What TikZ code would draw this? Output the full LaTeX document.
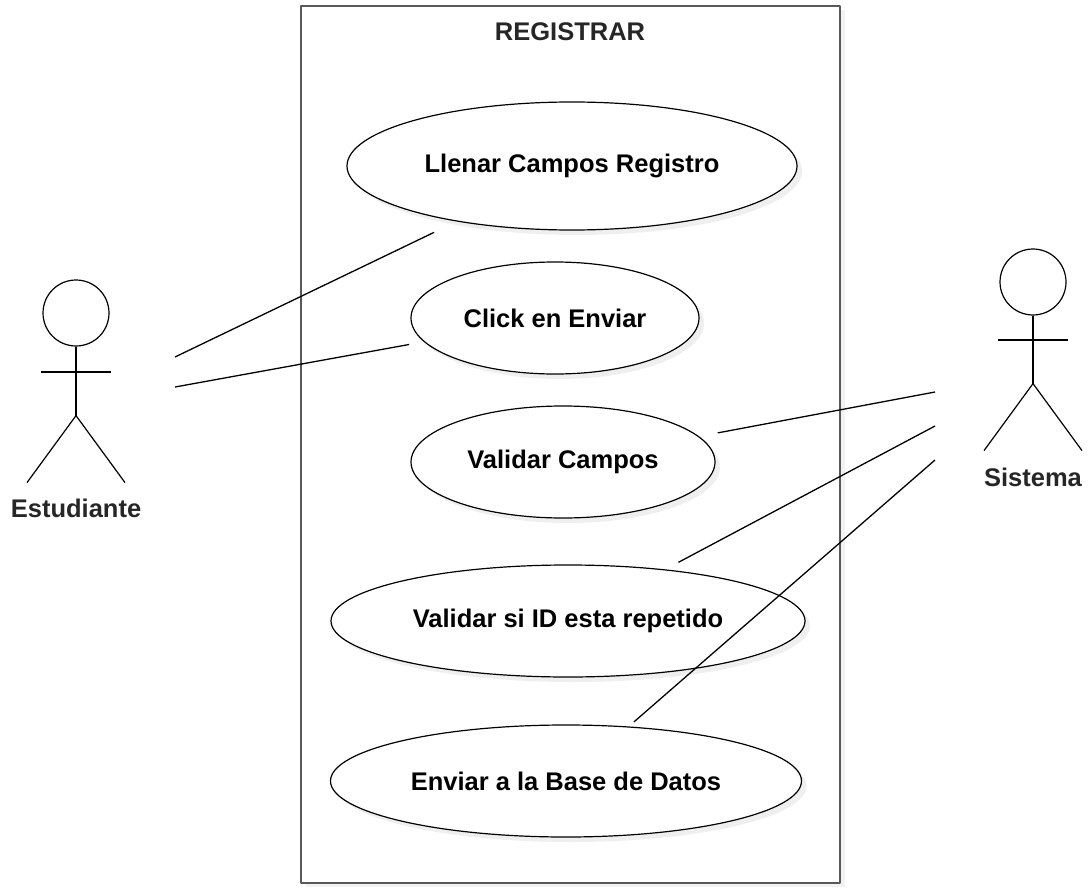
\documentclass[tikz,border=0pt]{standalone}
\usepackage{fontspec}
\setmainfont{Liberation Sans}
\usepackage{tikz}
\usetikzlibrary{calc,shapes.geometric,shadows}
\tikzstyle{use case}    = [ellipse,draw,line width=1.2pt,fill=white,inner sep=0,
                           drop shadow={shadow xshift=5pt,shadow yshift=-5pt,opacity=0.12}]
\tikzstyle{actor head}  = [circle,draw,line width=1.2pt,minimum size=66pt,inner sep=0]
\tikzstyle{actor label} = [font=\bfseries\fontsize{25.5}{30}\selectfont,text=black!85]
\tikzstyle{assoc}       = [line width=1.3pt]

\begin{document}
\begin{tikzpicture}[x=1pt,y=-1pt,line join=round,
                    font=\bfseries\fontsize{25.5}{30}\selectfont
                    ]
\useasboundingbox (0,0) rectangle (1089,888);

    % system boundary
    \draw[black!65, line width=2pt, fill=white,
          drop shadow={shadow xshift=5pt,shadow yshift=-4pt,opacity=0.1}]
          (301,6) rectangle (840,883);
    \node(title)[text=black!85] at (570,32) {REGISTRAR};

    % use cases
    \node(uc1)[use case, minimum width=450, minimum height=128] at (572,166) {Llenar Campos Registro};
    \node(uc2)[use case, minimum width=288, minimum height=112] at (555,318) {Click en Enviar};
    \node(uc3)[use case, minimum width=304, minimum height=112] at (563,462) {Validar Campos};
    \node(uc4)[use case, minimum width=474, minimum height=112] at (568,621) {Validar si ID esta repetido};
    \node(uc5)[use case, minimum width=471, minimum height=112] at (566,781) {Enviar a la Base de Datos};

    % actor Estudiante
    \node(est)[actor head] at (76,313) {};
    \draw[line width=1.2pt] (est.south) -- ++(0,69) coordinate(estHip);
    \draw[line width=1.2pt] ($(est)+(-35,59)$) -- ++(70,0);
    \draw[line width=1.2pt] (estHip) -- ++(-49,67) (estHip) -- ++(49,67);
    \node(estName)[actor label] at ($(est)+(0,195)$) {Estudiante};

    % actor Sistema
    \node(sis)[actor head] at (1033,282) {};
    \draw[line width=1.2pt] (sis.south) -- ++(0,68) coordinate(sisHip);
    \draw[line width=1.2pt] ($(sis)+(-35,58)$) -- ++(70,0);
    \draw[line width=1.2pt] (sisHip) -- ++(-49,67) (sisHip) -- ++(49,67);
    \node(sisName)[actor label] at ($(sis)+(0,195)$) {Sistema};

    % associations
    \coordinate(e1) at (175,357);
    \coordinate(e2) at (175,387);
    \coordinate(s1) at (935,392);
    \coordinate(s2) at (935,426);
    \coordinate(s3) at (935,460);

    \draw[assoc, shorten >=25pt](e1)--(uc1);
    \draw[assoc, shorten >=15pt](e2)--(uc2);
    \draw[assoc, shorten >=19pt](s1)--(uc3);
    \draw[assoc, shorten >=15pt](s2)--(uc4);
    \draw[assoc, shorten >=7pt](s3)--(uc5);

\end{tikzpicture}
\end{document}
